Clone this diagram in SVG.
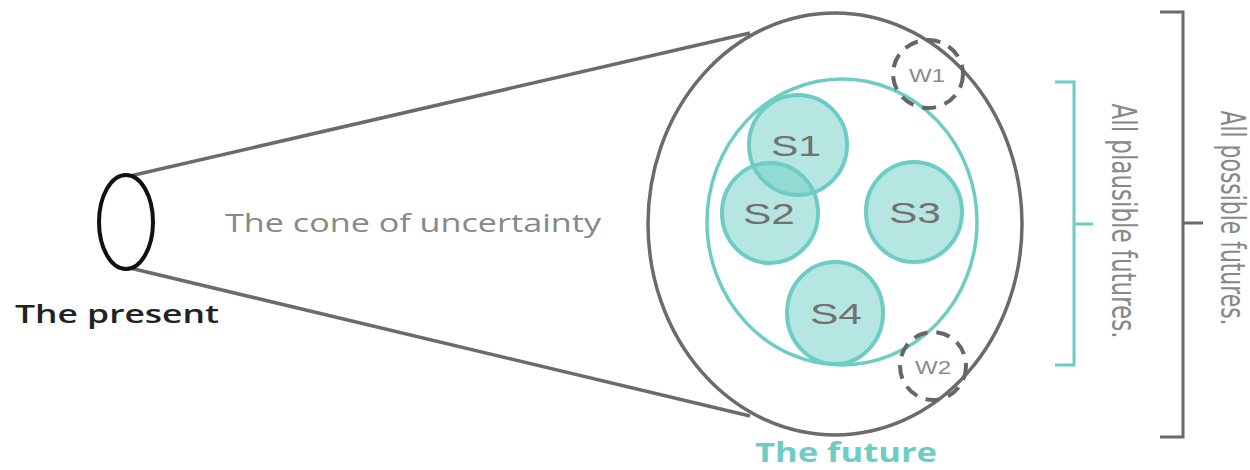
<svg xmlns="http://www.w3.org/2000/svg" width="1250" height="470" viewBox="0 0 1250 470">
<style>
.gray{fill:none;stroke:#6b6b6b;stroke-width:3.5}
.teal{fill:none;stroke:#6dcdc4;stroke-width:3.5}
.scen{fill:#6dcdc4;fill-opacity:0.5;stroke:#6dcdc4;stroke-width:4}
.wild{fill:none;stroke:#666;stroke-width:4;stroke-dasharray:14 9}
.slab{font-family:"Liberation Sans",Arial,sans-serif;font-size:30px;fill:#727272;text-anchor:middle}
.wlab{font-family:"Liberation Sans",Arial,sans-serif;font-size:18px;fill:#8a8a8a;text-anchor:middle}
.os{font-family:"Open Sans","Noto Sans",sans-serif}
.side{font-family:"Liberation Sans Narrow","DejaVu Sans Condensed","Liberation Sans",sans-serif;font-size:33px;fill:#888;text-anchor:middle}
</style>
<rect width="1250" height="470" fill="#fff"/>
<g id="connectors">
<line class="gray" x1="130" y1="176" x2="750" y2="33"/>
<line class="gray" x1="130" y1="268" x2="750" y2="416"/>
</g>
<g id="present">
<ellipse cx="126" cy="222" rx="27" ry="47" fill="none" stroke="#111" stroke-width="4"/>
<text class="os" x="117" y="323" font-size="25" font-weight="600" fill="#222" text-anchor="middle" textLength="204" lengthAdjust="spacingAndGlyphs">The present</text>
</g>
<g id="cone-label">
<text class="os" x="413" y="232" font-size="26" fill="#888" text-anchor="middle" textLength="376" lengthAdjust="spacingAndGlyphs">The cone of uncertainty</text>
</g>
<g id="future">
<ellipse class="gray" cx="835" cy="224" rx="187" ry="211"/>
<text class="os" x="846" y="462" font-size="26" font-weight="700" fill="#6dcdc4" text-anchor="middle" textLength="182" lengthAdjust="spacingAndGlyphs">The future</text>
</g>
<g id="plausible">
<ellipse class="teal" cx="842" cy="222" rx="135" ry="143"/>
</g>
<g id="s1"><ellipse class="scen" cx="798" cy="145" rx="49" ry="50"/><text class="slab" x="796" y="156" textLength="50" lengthAdjust="spacingAndGlyphs">S1</text></g>
<g id="s2"><ellipse class="scen" cx="770" cy="213" rx="48" ry="50"/><text class="slab" x="769" y="224" textLength="52" lengthAdjust="spacingAndGlyphs">S2</text></g>
<g id="s3"><ellipse class="scen" cx="914" cy="212" rx="48" ry="50"/><text class="slab" x="915" y="223" textLength="52" lengthAdjust="spacingAndGlyphs">S3</text></g>
<g id="s4"><ellipse class="scen" cx="835" cy="313" rx="48" ry="51"/><text class="slab" x="836" y="324" textLength="52" lengthAdjust="spacingAndGlyphs">S4</text></g>
<g id="w1"><ellipse class="wild" cx="928" cy="74" rx="35" ry="34"/><text class="wlab" x="927" y="82" textLength="36" lengthAdjust="spacingAndGlyphs">W1</text></g>
<g id="w2"><ellipse class="wild" cx="933" cy="366" rx="33" ry="34"/><text class="wlab" x="933" y="374" textLength="36" lengthAdjust="spacingAndGlyphs">W2</text></g>
<g id="plausible-bracket">
<path d="M1055 82 H1074 V365 H1055 M1074 224 H1093" fill="none" stroke="#6dcdc4" stroke-width="3"/>
<text class="side" transform="translate(1112 221) rotate(90)" textLength="235" lengthAdjust="spacingAndGlyphs">All plausible futures.</text>
</g>
<g id="possible-bracket">
<path d="M1160 12 H1183 V437 H1160 M1183 223 H1203" fill="none" stroke="#6b6b6b" stroke-width="3"/>
<text class="side" transform="translate(1221 218) rotate(90)" textLength="215" lengthAdjust="spacingAndGlyphs">All possible futures.</text>
</g>
</svg>
